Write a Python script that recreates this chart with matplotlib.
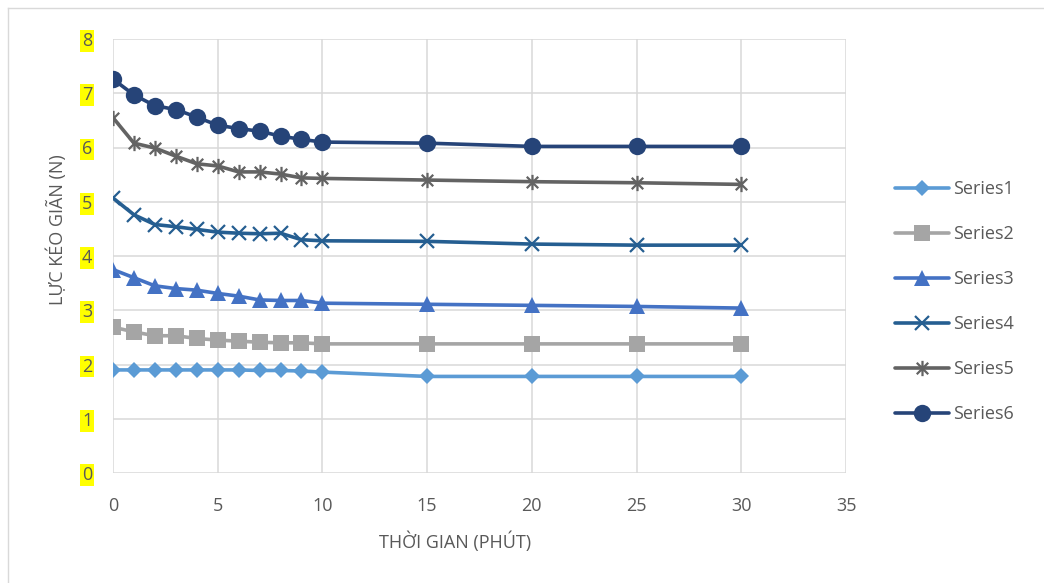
import matplotlib
matplotlib.use("Agg")
import matplotlib.pyplot as plt
from matplotlib.path import Path
from matplotlib.lines import Line2D

plt.rcParams['font.family'] = ['Open Sans', 'DejaVu Sans']

# ---- data ----
time_min = [0, 1, 2, 3, 4, 5, 6, 7, 8, 9, 10, 15, 20, 25, 30]
series1 = [1.90, 1.90, 1.90, 1.90, 1.90, 1.90, 1.90, 1.89, 1.89, 1.88, 1.86, 1.78, 1.78, 1.78, 1.78]
series2 = [2.69, 2.60, 2.53, 2.53, 2.48, 2.45, 2.43, 2.41, 2.40, 2.40, 2.38, 2.38, 2.38, 2.38, 2.38]
series3 = [3.75, 3.60, 3.45, 3.40, 3.37, 3.31, 3.26, 3.19, 3.18, 3.18, 3.13, 3.11, 3.09, 3.07, 3.04]
series4 = [5.07, 4.76, 4.58, 4.54, 4.49, 4.44, 4.42, 4.41, 4.42, 4.30, 4.28, 4.27, 4.22, 4.20, 4.20]
series5 = [6.55, 6.08, 5.99, 5.84, 5.70, 5.66, 5.55, 5.55, 5.51, 5.44, 5.43, 5.40, 5.37, 5.35, 5.32]
series6 = [7.26, 6.97, 6.77, 6.70, 6.56, 6.41, 6.35, 6.30, 6.21, 6.15, 6.10, 6.08, 6.02, 6.02, 6.02]
series_names = ["Series1", "Series2", "Series3", "Series4", "Series5", "Series6"]
x_ticks = [0, 5, 10, 15, 20, 25, 30, 35]
y_ticks = [0, 1, 2, 3, 4, 5, 6, 7, 8]
x_label = "THỜI GIAN (PHÚT)"
y_label = "LỰC KÉO GIÃN (N)"

# ---- styles ----
star = Path([(0, -1), (0, 1), (-0.75, -0.75), (0.75, 0.75), (-0.75, 0.75), (0.75, -0.75)],
            [Path.MOVETO, Path.LINETO, Path.MOVETO, Path.LINETO, Path.MOVETO, Path.LINETO])
styles = [
    dict(color="#5B9BD5", marker="D", ms=8.5, mfc="#5B9BD5", mew=0),
    dict(color="#A5A5A5", marker="s", ms=12, mfc="#A5A5A5", mew=0),
    dict(color="#4472C4", marker="^", ms=12, mfc="#4472C4", mew=0),
    dict(color="#255E91", marker="x", ms=10.5, mew=1.6),
    dict(color="#636363", marker=star, ms=11, mfc="none", mew=1.6),
    dict(color="#264478", marker="o", ms=12.5, mfc="#264478", mew=0),
]
text_color = "#595959"
grid_color = "#D9D9D9"
fs = 13

fig = plt.figure(figsize=(10.44, 5.83), dpi=100)
ax = fig.add_axes([113 / 1044, 1 - 473 / 583, (846 - 113) / 1044, (473 - 39) / 583])

all_series = [series1, series2, series3, series4, series5, series6]
for name, vals, st in zip(series_names, all_series, styles):
    ax.plot(time_min, vals, label=name, lw=2.6, solid_capstyle="round",
            markeredgecolor=st["color"], **st)

ax.set_xlim(0, 35)
ax.set_ylim(0, 8)
ax.set_xticks(x_ticks)
ax.set_yticks(y_ticks)
ax.set_xticklabels([str(v) for v in x_ticks])
ax.set_yticklabels([str(v) for v in y_ticks])
ax.grid(True, color=grid_color, lw=1.1)
ax.set_axisbelow(True)
for s in ax.spines.values():
    s.set_visible(False)
ax.tick_params(axis="both", length=0, labelsize=fs, colors=text_color)
ax.tick_params(axis="x", pad=17)
ax.tick_params(axis="y", pad=15)
for lbl in ax.get_yticklabels():
    lbl.set_bbox(dict(boxstyle="square,pad=0.1", fc="#FFFF00", ec="none"))

fig.text(455 / 1044, 1 - 542 / 583, x_label, ha="center", va="center", fontsize=fs, color=text_color)
fig.text(57 / 1044, 1 - 230 / 583, y_label, ha="center", va="center", rotation=90, fontsize=fs, color=text_color)

leg = fig.legend(loc="upper left", bbox_to_anchor=(895 / 1044, 1 - 180 / 583),
                 frameon=False, fontsize=fs, handlelength=3.0, handletextpad=0.2,
                 labelspacing=1.5, borderpad=0, borderaxespad=0, labelcolor=text_color)

# chart-area border (left and top visible)
fig.add_artist(Line2D([8 / 1044, 8 / 1044], [0, 1 - 8 / 583], transform=fig.transFigure, color="#D9D9D9", lw=1))
fig.add_artist(Line2D([8 / 1044, 1], [1 - 8 / 583, 1 - 8 / 583], transform=fig.transFigure, color="#D9D9D9", lw=1))

fig.savefig("out.png", dpi=100)
